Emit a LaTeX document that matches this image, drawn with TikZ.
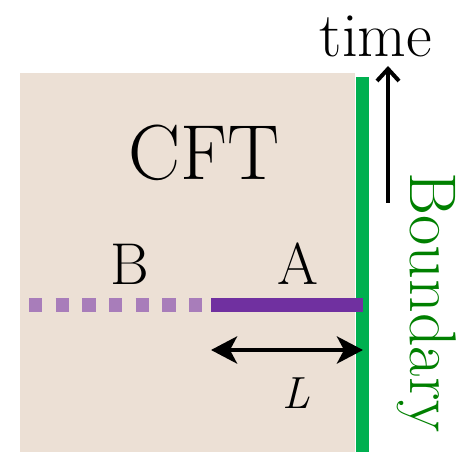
\documentclass[tikz,border=0pt]{standalone}
\usetikzlibrary{arrows.meta}
\definecolor{beige}{HTML}{ECE0D5}
\definecolor{bgreen}{HTML}{00B050}
\definecolor{dgreen}{HTML}{008000}
\definecolor{dpurple}{HTML}{7030A0}
\definecolor{lpurple}{HTML}{A87DBA}
\begin{document}
\begin{tikzpicture}[x=1pt,y=-1pt,
  lbl/.style={inner sep=0pt,anchor=base}]
\useasboundingbox (0,0) rectangle (467,452);
\fill[beige] (20,73) rectangle (355,452);
\coordinate (gt) at (362.5,77);
\coordinate (gb) at (362.5,452);
\draw[bgreen,line width=12.5pt] (gt) -- (gb);
% segments
\coordinate (b0) at (29,305);
\coordinate (b1) at (203,305);
\coordinate (a0) at (211,305);
\coordinate (a1) at (363,305);
\draw[lpurple,line width=13.3pt,dash pattern=on 13.3pt off 13.37pt] (b0) -- (b1);
\draw[dpurple,line width=13.3pt] (a0) -- (a1);
% L arrow
\coordinate (l0) at (211,350);
\coordinate (l1) at (363,350);
\draw[line width=4.5pt,{Stealth[length=26pt,width=27pt,inset=7pt]}-{Stealth[length=26pt,width=27pt,inset=7pt]}] (l0) -- (l1);
% time arrow
\coordinate (t0) at (388,203);
\coordinate (t1) at (388,66);
\draw[line width=4pt,-{Straight Barb[length=12pt,width=22pt,line width=4pt]}] (t0) -- (t1);
% texts
\node[lbl] (time) at (376,57) {\fontsize{63}{68}\selectfont time};
\node[lbl] (cft) at (204,180) {\fontsize{78}{84}\selectfont CFT};
\node[lbl] (B) at (130,285) {\fontsize{59}{64}\selectfont B};
\node[lbl] (A) at (297.5,285) {\fontsize{59}{64}\selectfont A};
\node[lbl] (L) at (296,409) {\fontsize{45}{50}\selectfont\itshape L};
\node[lbl,rotate=-90,text=dgreen] (bd) at (410,302.5) {\fontsize{66}{72}\selectfont Boundary};
\end{tikzpicture}
\end{document}
